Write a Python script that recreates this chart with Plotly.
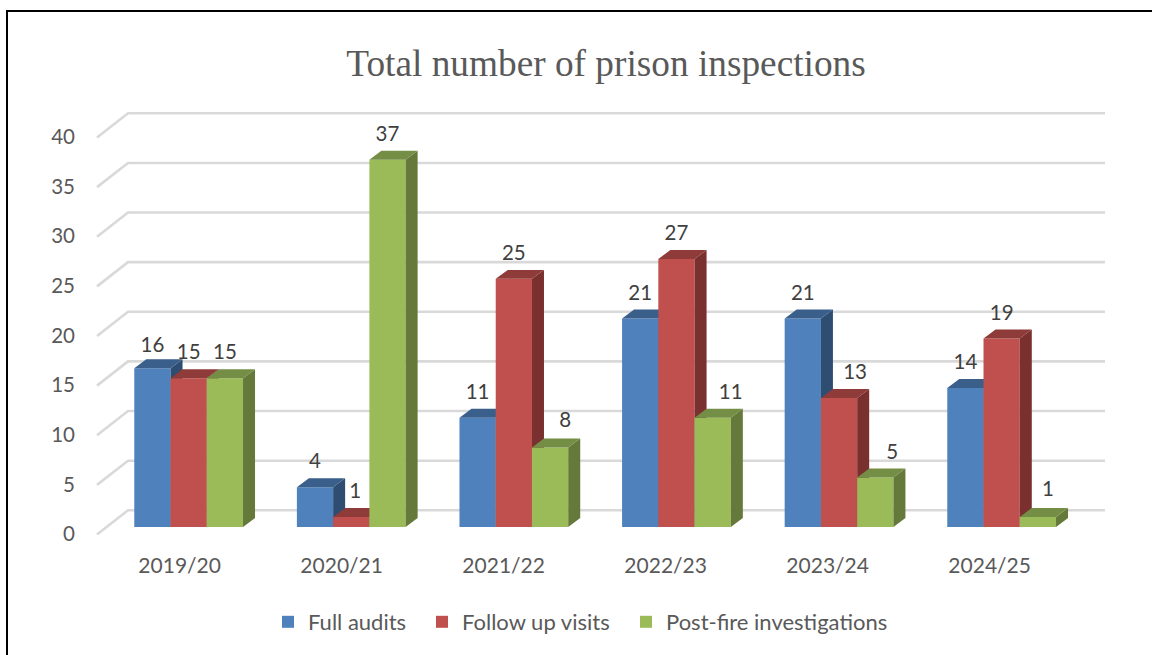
import plotly.graph_objects as go

categories = ["2019/20", "2020/21", "2021/22", "2022/23", "2023/24", "2024/25"]
full_audits = [16, 4, 11, 21, 21, 14]
follow_up_visits = [15, 1, 25, 27, 13, 19]
post_fire_investigations = [15, 37, 8, 11, 5, 1]
y_ticks = [0, 5, 10, 15, 20, 25, 30, 35, 40]

W, H = 1152, 655
L, R, T, B = 79, 1112, 105, 535       # plot box in page pixels
PX_PER_CAT = 162.6
PX_PER_VAL = 9.925
ZERO_X, ZERO_Y = 188.65, 527          # page pixel of category 0 / value 0
LABEL_PITCH = 162.0                   # category labels sit slightly tighter than the bars

def cx(px):  # pixel distance -> category units
    return px / PX_PER_CAT

def vy(px):  # pixel distance -> value units
    return px / PX_PER_VAL

x_range = [(L - ZERO_X) / PX_PER_CAT, (R - ZERO_X) / PX_PER_CAT]
y_range = [(ZERO_Y - B) / PX_PER_VAL, (ZERO_Y - T) / PX_PER_VAL]

BAR_W = cx(36.25)
DEPTH_X, DEPTH_Y = cx(12), vy(9)

styles = [
    ("Full audits", full_audits, "#4F81BD", "#3A5F8B", "#2F4D71", -1),
    ("Follow up visits", follow_up_visits, "#C0504D", "#8E3B39", "#7A302E", 0),
    ("Post-fire investigations", post_fire_investigations, "#9BBB59", "#758E45", "#64793A", 1),
]
# label nudges (px right, px up) where Excel moved a label away from a neighbour
label_nudge = {(0, 0): (0, -3), (1, 1): (4, 0), (1, 4): (16, 0), (2, 2): (15, 2),
               (2, 3): (18, 0), (2, 4): (17, 0), (2, 5): (10, 2)}
legend_left_px = [268, 422, 626]

fig = go.Figure()

# gridlines: front wall edge -> back wall -> right end
front_dx, front_dy = cx(97 - ZERO_X), vy(ZERO_Y - 534.5)
back_dx, back_dy = cx(128 - ZERO_X), vy(ZERO_Y - 510.3)
end_x = cx(1105 - ZERO_X)
gx, gy = [], []
for v in y_ticks:
    gx += [front_dx, back_dx, end_x, None]
    gy += [v + front_dy, v + back_dy, v + back_dy, None]
fig.add_trace(go.Scatter(x=gx, y=gy, mode="lines", line=dict(color="#D9D9D9", width=2.6),
                         showlegend=False, hoverinfo="skip", xaxis="x", yaxis="y"))

for s, (name, vals, front, top, side, pos) in enumerate(styles):
    ax = dict(xaxis=f"x{s + 2}", yaxis=f"y{s + 2}")
    xs = [i + pos * BAR_W for i in range(len(vals))]
    fig.add_trace(go.Bar(x=xs, y=vals, width=BAR_W, name=name, marker=dict(color=front, line=dict(width=0)),
                         legend="legend" if s == 0 else f"legend{s + 1}", **ax))
    tx, ty, sx, sy = [], [], [], []
    for x, v in zip(xs, vals):
        x0, x1 = x - BAR_W / 2, x + BAR_W / 2
        tx += [x0, x1, x1 + DEPTH_X, x0 + DEPTH_X, x0, None]
        ty += [v, v, v + DEPTH_Y, v + DEPTH_Y, v, None]
        sx += [x1, x1 + DEPTH_X, x1 + DEPTH_X, x1, x1, None]
        sy += [0, DEPTH_Y, v + DEPTH_Y, v, 0, None]
    for px_, py_, col in ((sx, sy, side), (tx, ty, top)):
        fig.add_trace(go.Scatter(x=px_, y=py_, mode="lines", fill="toself", fillcolor=col,
                                 line=dict(width=0, color=col), showlegend=False, hoverinfo="skip", **ax))

# data labels on the top layer
for s, (name, vals, front, top, side, pos) in enumerate(styles):
    lx = [i + pos * BAR_W + cx(label_nudge.get((s, i), (0, 0))[0]) for i in range(len(vals))]
    ly = [v + vy(24 + label_nudge.get((s, i), (0, 0))[1]) for i, v in enumerate(vals)]
    fig.add_trace(go.Scatter(x=lx, y=ly, mode="text", text=[str(v) for v in vals],
                             textposition="middle center",
                             textfont=dict(family="Lato", size=20.5, color="#404040"),
                             showlegend=False, hoverinfo="skip", xaxis="x4", yaxis="y4"))

layout_axes = {}
for n in (2, 3, 4):
    layout_axes[f"xaxis{n}"] = dict(overlaying="x", range=x_range, visible=False)
    layout_axes[f"yaxis{n}"] = dict(overlaying="y", range=y_range, visible=False)

fx = lambda px: (px - L) / (R - L)
fy = lambda px: (B - px) / (B - T)

legends = {}
for i, left in enumerate(legend_left_px):
    legends["legend" if i == 0 else f"legend{i + 1}"] = dict(
        orientation="h", x=fx(left), y=fy(622), xanchor="left", yanchor="middle",
        font=dict(family="Lato", size=22, color="#595959"))

fig.update_layout(
    width=W, height=H,
    margin=dict(l=L, r=W - R, t=T, b=H - B),
    paper_bgcolor="white", plot_bgcolor="white",
    barmode="overlay",
    font=dict(family="Lato", color="#595959", size=20),
    title=dict(text="Total number of prison inspections", x=606 / W, y=1 - 62.5 / H,
               xanchor="center", yanchor="middle", xref="container", yref="container",
               font=dict(family="Liberation Serif", size=37.3, color="#595959")),
    xaxis=dict(range=x_range, tickmode="array",
               tickvals=[i * LABEL_PITCH / PX_PER_CAT for i in range(len(categories))], ticktext=categories,
               showgrid=False, zeroline=False, showline=False, ticks="", ticklabelshift=-9,
               ticklabelstandoff=16, tickfont=dict(family="Lato", size=21, color="#595959")),
    yaxis=dict(range=y_range, tickmode="array", tickvals=y_ticks, showgrid=False, zeroline=False,
               showline=False, ticks="", ticklabelshift=7, ticklabelstandoff=3,
               tickfont=dict(family="Lato", size=20.5, color="#595959")),
    shapes=[dict(type="path", xref="paper", yref="paper",
                 path=f"M {fx(7)} {fy(655)} L {fx(7)} {fy(11)} L {fx(1152)} {fy(11)}",
                 line=dict(color="#000000", width=2))],
    **legends,
    **layout_axes,
)

fig.write_html("out.html", post_script="document.body.style.margin='0';",
               config={"displayModeBar": False})
